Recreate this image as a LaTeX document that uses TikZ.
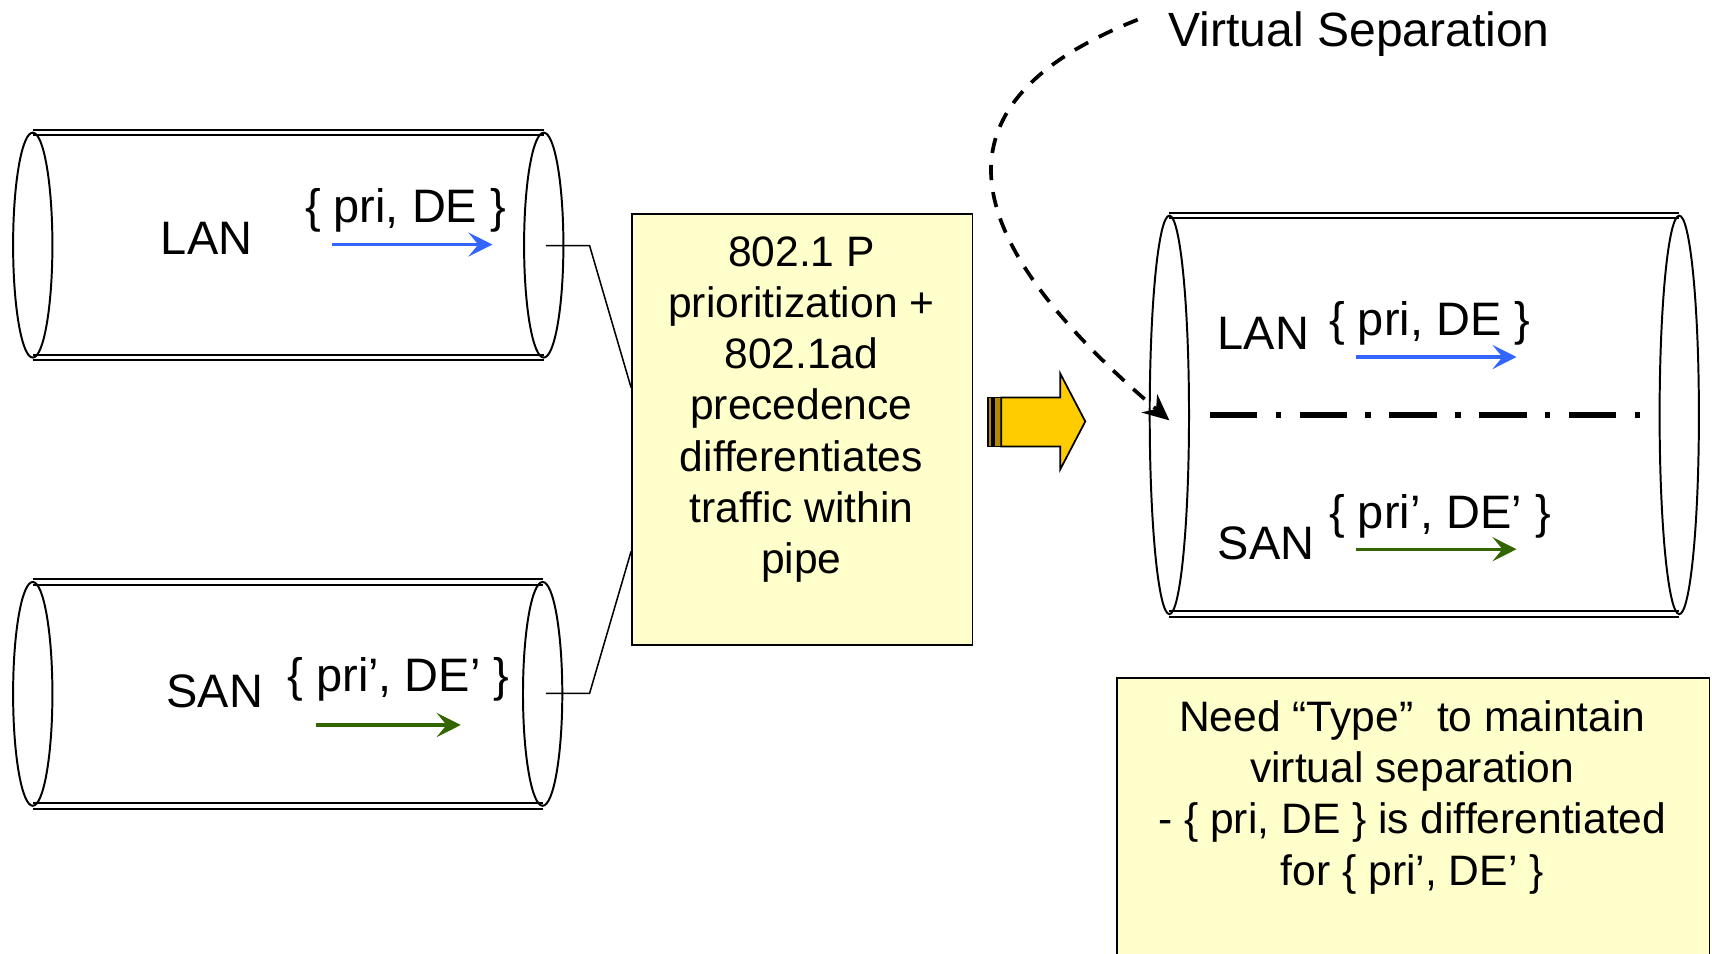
\documentclass[tikz,border=0pt]{standalone}
\usepackage{fontspec}
\setmainfont{Liberation Sans}
\usetikzlibrary{arrows.meta,calc}

\definecolor{notefill}{HTML}{FFFFCC}
\definecolor{lanblue}{HTML}{3366FF}
\definecolor{sangreen}{HTML}{336600}
\definecolor{arrowgold}{HTML}{FFCC00}
\definecolor{stripegold}{HTML}{B38600}

\tikzset{
  rim/.style={draw=black, line width=0.9pt},
  seam/.style={draw=black, line width=0.9pt},
  pipetext/.style={font=\fontsize{21.5}{24}\selectfont, inner sep=0pt, anchor=base west},
  notetext/.style={font=\fontsize{19.5}{23.5}\selectfont, align=center, inner sep=0pt, anchor=north},
  notebox/.style={draw=black, line width=0.8pt, fill=notefill, inner sep=0pt, anchor=north west},
  flow/.style={line width=1.5pt, -{Stealth[length=11pt,width=11pt,inset=4.5pt]}},
  wire/.style={draw=black, line width=0.7pt},
}

% a pipe: left rim x, right rim x, centre y, half height
\newcommand\drawpipe[4]{%
  \pgfmathsetmacro\pipetop{#3-#4}%
  \pgfmathsetmacro\pipebot{#3+#4}%
  \pgfmathsetmacro\piperad{#4/2}%
  \fill[white] (#1,\pipetop) rectangle (#2,\pipebot);
  \draw[rim] (#1,#3) ellipse [x radius=9pt, y radius=\piperad pt];
  \draw[rim] (#2,#3) ellipse [x radius=9pt, y radius=\piperad pt];
  \draw[seam] (#1,\pipetop-2.5) -- (#2,\pipetop-2.5) (#1,\pipetop+2.5) -- (#2,\pipetop+2.5);
  \draw[seam] (#1,\pipebot-2.5) -- (#2,\pipebot-2.5) (#1,\pipebot+2.5) -- (#2,\pipebot+2.5);
}

\begin{document}
\begin{tikzpicture}[x=0.5pt, y=-0.5pt]
\useasboundingbox (0,0) rectangle (1568,873);
\clip (0,0) rectangle (1568,873);

% ---- two separate pipes on the left
\drawpipe{30}{498}{224.5}{103}
\node[pipetext] (lan1) at (147,233) {LAN};
\node[pipetext] (lantag1) at (279,204) {\{ pri, DE \}};
\coordinate (lanA) at (304,224);
\coordinate (lanB) at (451,224);
\draw[flow, lanblue] (lanA) -- (lanB);

\drawpipe{30}{497}{635.5}{102.5}
\node[pipetext] (san1) at (152,648) {SAN};
\node[pipetext] (santag1) at (263,633) {\{ pri’, DE’ \}};
\coordinate (sanA) at (289,664);
\coordinate (sanB) at (422,664);
\draw[flow, sangreen] (sanA) -- (sanB);

% ---- middle note
\node[notebox, minimum width=156pt, minimum height=197.5pt] (midbox) at (578,195) {};
\node[notetext] (midtext) at (734,216) {802.1 P\\prioritization +\\802.1ad\\precedence\\differentiates\\traffic within\\pipe};

\coordinate (lanport) at (500,225);
\coordinate (sanport) at (500,635);
\draw[wire] (lanport) -- ++(40,0) -- (midbox.west |- 0,355);
\draw[wire] (sanport) -- ++(40,0) -- (midbox.west |- 0,505);

% ---- block arrow
\draw[fill=stripegold, line width=0.6pt] (905,364) rectangle (908.5,409);
\draw[fill=stripegold, line width=0.6pt] (910.5,364) rectangle (917,409);
\draw[fill=arrowgold, line width=0.8pt] (917,364) -- (971,364) -- (971,342) -- (994,386)
  -- (971,430) -- (971,409) -- (917,409) -- cycle;

% ---- shared pipe on the right
\drawpipe{1071}{1538}{380}{182.5}
\node[pipetext] (lan2) at (1115,320) {LAN};
\node[pipetext] (lantag2) at (1217,307) {\{ pri, DE \}};
\coordinate (lanC) at (1242,327);
\coordinate (lanD) at (1389,327);
\draw[flow, lanblue] (lanC) -- (lanD);

\node[pipetext] (san2) at (1115,512) {SAN};
\node[pipetext] (santag2) at (1217,484) {\{ pri’, DE’ \}};
\coordinate (sanC) at (1242,503);
\coordinate (sanD) at (1389,503);
\draw[flow, sangreen] (sanC) -- (sanD);

\coordinate (sepL) at (1108,380);
\coordinate (sepR) at (1506,380);
\draw[line width=2.5pt, dash pattern=on 21.8pt off 8.4pt on 2.5pt off 8.4pt] (sepL) -- (sepR);

% ---- callout
\node[pipetext, font=\fontsize{22}{24}\selectfont] (vsep) at (1070,43) {Virtual Separation};
\coordinate (vstail) at (1042,18);
\coordinate (vshead) at (1071,385);
\draw[line width=1.7pt, dash pattern=on 7pt off 5.5pt, -{Stealth[length=12pt,width=11pt,inset=4pt]}]
  (vstail) .. controls (860,90) and (860,205) .. (vshead);

% ---- lower note
\node[notebox, minimum width=271.5pt, minimum height=140pt] (typebox) at (1022,620) {};
\node[notetext] (typetext) at (1293.5,641) {Need “Type”\ \ to maintain\\virtual separation\\- \{ pri, DE \} is differentiated\\for \{ pri’, DE’ \}};
\end{tikzpicture}
\end{document}
